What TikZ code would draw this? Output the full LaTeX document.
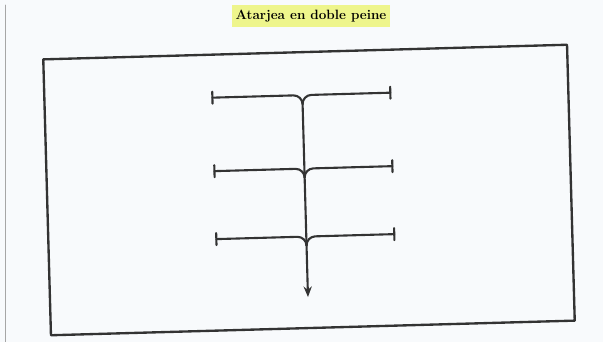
\documentclass[tikz,border=0pt]{standalone}
\usepackage{xcolor}
\usetikzlibrary{calc,arrows.meta}
\definecolor{tinta}{HTML}{333333}
\definecolor{marca}{HTML}{EEF58C}
\definecolor{papel}{HTML}{F8FAFC}
\begin{document}
\begin{tikzpicture}[x=0.03cm,y=-0.03cm,>={Stealth[length=9pt,width=7pt]},line join=round,line cap=round,
	every node/.style={font=\fontsize{11.5}{13}\selectfont\bfseries},
	ramal/.style={draw=tinta,line width=1.8pt},
	declare function={xt = 305; xl = 215; xr = 393; ya = 95; yb = 168.5; yc = 236.5; dr = 9;}]
	\useasboundingbox[fill=papel] (0,0) rectangle (603,342);
	% page edge
	\draw[gray!70,line width=0.8pt] (5,5) -- (5,342);
	% title
	\node[fill=marca,inner xsep=3pt,inner ysep=4pt] (titulo) at (311,16) {Atarjea en doble peine};
	\begin{scope}[rotate around={1.6:(309,190)}]
		\path (xt,ya) coordinate (A)
			(xt,yb) coordinate (B)
			(xt,yc) coordinate (C)
			(xt,297) coordinate (S);
		\draw[tinta,line width=2pt] (47,52) rectangle (571,328);
		% branches of the comb
		\foreach \p/\y in {A/ya,B/yb,C/yc}{
			\draw[ramal] (xl,\y) -- (xt-dr,\y) to[out=0,in=90] ($(\p)+(0,dr)$);
			\draw[ramal] (xr,\y) -- (xt+dr,\y) to[out=180,in=90] ($(\p)+(0,dr)$);
			\draw[ramal] (xl,\y-6) -- (xl,\y+6);
			\draw[ramal] (xr,\y-6) -- (xr,\y+6);
		}
		% main channel
		\draw[ramal,->] ($(A)+(0,dr)$) -- (S);
	\end{scope}
\end{tikzpicture}
\end{document}
